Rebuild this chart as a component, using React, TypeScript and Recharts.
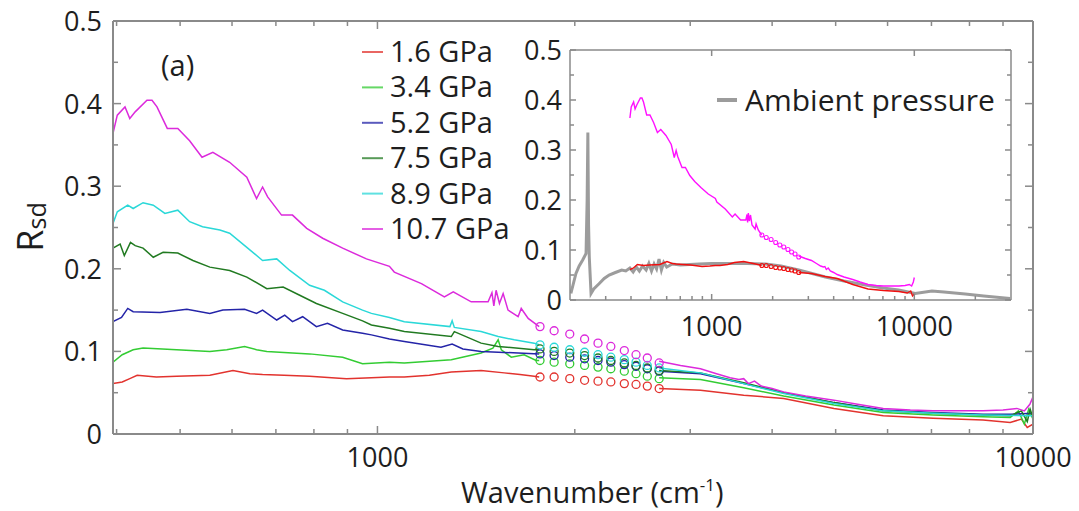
import React from 'react';
import { ComposedChart, Line, XAxis, YAxis } from 'recharts';

// ---------------- data ----------------
const legendLabels = ['1.6 GPa', '3.4 GPa', '5.2 GPa', '7.5 GPa', '8.9 GPa', '10.7 GPa'];
const insetLegendLabel = 'Ambient pressure';
const panelLabel = '(a)';

const circleW = [1770, 1860, 1965, 2070, 2170, 2270, 2380, 2480, 2580, 2690];

// 1.6 GPa
const p16LoW = [395, 408, 419, 430, 460, 494, 555, 602, 639, 668, 720, 788, 897, 979, 1043, 1099, 1200, 1296, 1439, 1561, 1650, 1734, 1765];
const p16LoV = [0.061, 0.063, 0.067, 0.071, 0.069, 0.070, 0.071, 0.077, 0.073, 0.072, 0.071, 0.070, 0.067, 0.068, 0.069, 0.069, 0.071, 0.075, 0.077, 0.074, 0.072, 0.070, 0.069];
const p16CircV = [0.069, 0.069, 0.067, 0.065, 0.064, 0.063, 0.061, 0.060, 0.058, 0.055];
const p16HiW = [2690, 3110, 3620, 4165, 4970, 5910, 7040, 8390, 9230, 9600, 9800, 10000];
const p16HiV = [0.055, 0.053, 0.047, 0.043, 0.031, 0.022, 0.019, 0.017, 0.014, 0.018, 0.008, 0.012];

// 3.4 GPa
const p34LoW = [395, 408, 424, 439, 494, 555, 589, 627, 654, 678, 788, 885, 949, 1043, 1099, 1296, 1439, 1500, 1528, 1545, 1600, 1674, 1746, 1765];
const p34LoV = [0.087, 0.096, 0.102, 0.104, 0.102, 0.100, 0.102, 0.106, 0.102, 0.100, 0.097, 0.093, 0.085, 0.087, 0.086, 0.090, 0.098, 0.104, 0.114, 0.102, 0.093, 0.096, 0.089, 0.089];
const p34CircV = [0.089, 0.087, 0.085, 0.083, 0.081, 0.079, 0.076, 0.073, 0.070, 0.067];
const p34HiW = [2690, 3110, 3620, 4165, 4970, 5910, 7040, 8390, 9230, 9500, 9700, 9850, 10000];
const p34HiV = [0.068, 0.066, 0.056, 0.046, 0.035, 0.026, 0.023, 0.021, 0.020, 0.028, 0.012, 0.030, 0.018];

// 5.2 GPa
const p52LoW = [395, 407, 416, 424, 466, 512, 555, 581, 627, 654, 668, 702, 722, 742, 769, 807, 839, 885, 949, 979, 1043, 1099, 1250, 1300, 1350, 1439, 1639, 1765];
const p52LoV = [0.136, 0.141, 0.152, 0.148, 0.147, 0.151, 0.146, 0.150, 0.151, 0.146, 0.150, 0.138, 0.144, 0.136, 0.142, 0.130, 0.134, 0.126, 0.122, 0.120, 0.115, 0.112, 0.105, 0.109, 0.103, 0.100, 0.098, 0.097];
const p52CircV = [0.097, 0.095, 0.093, 0.091, 0.089, 0.087, 0.084, 0.082, 0.079, 0.076];
const p52HiW = [2690, 3110, 3620, 4165, 4970, 5910, 7040, 8390, 9230, 10000];
const p52HiV = [0.076, 0.073, 0.061, 0.050, 0.038, 0.029, 0.026, 0.024, 0.024, 0.025];

// 7.5 GPa
const p75LoW = [395, 405, 411, 420, 427, 439, 455, 471, 496, 523, 555, 595, 632, 678, 718, 761, 807, 885, 949, 979, 1043, 1099, 1296, 1310, 1439, 1528, 1734, 1765];
const p75LoV = [0.225, 0.230, 0.216, 0.232, 0.228, 0.225, 0.214, 0.220, 0.219, 0.210, 0.202, 0.198, 0.190, 0.176, 0.178, 0.168, 0.158, 0.146, 0.137, 0.132, 0.128, 0.124, 0.118, 0.124, 0.110, 0.106, 0.102, 0.103];
const p75CircV = [0.103, 0.100, 0.098, 0.095, 0.092, 0.089, 0.086, 0.083, 0.080, 0.077];
const p75HiW = [2690, 3110, 3620, 4165, 4970, 5910, 7040, 8390, 9230, 9600, 9800, 9900, 10000];
const p75HiV = [0.077, 0.074, 0.062, 0.050, 0.038, 0.028, 0.025, 0.023, 0.022, 0.028, 0.015, 0.030, 0.020];

// 8.9 GPa
const p89LoW = [395, 401, 416, 424, 439, 455, 474, 496, 517, 541, 575, 595, 632, 668, 702, 735, 788, 830, 885, 949, 979, 1043, 1099, 1290, 1300, 1310, 1439, 1528, 1617, 1734, 1765];
const p89LoV = [0.255, 0.269, 0.277, 0.273, 0.280, 0.277, 0.267, 0.271, 0.257, 0.251, 0.247, 0.243, 0.226, 0.210, 0.212, 0.198, 0.180, 0.174, 0.160, 0.150, 0.146, 0.141, 0.136, 0.130, 0.137, 0.129, 0.124, 0.118, 0.114, 0.110, 0.108];
const p89CircV = [0.108, 0.105, 0.102, 0.099, 0.096, 0.093, 0.090, 0.087, 0.083, 0.080];
const p89HiW = [2690, 3110, 3620, 4165, 4970, 5910, 7040, 8390, 10000];
const p89HiV = [0.080, 0.074, 0.061, 0.049, 0.037, 0.028, 0.025, 0.023, 0.022];

// 10.7 GPa
const p107LoW = [395, 401, 412, 419, 427, 445, 453, 461, 478, 496, 517, 540, 561, 595, 632, 654, 668, 680, 714, 742, 780, 825, 885, 962, 1043, 1061, 1167, 1265, 1305, 1390, 1475, 1495, 1505, 1517, 1535, 1555, 1582, 1639, 1657, 1698, 1765];
const p107LoV = [0.364, 0.386, 0.396, 0.382, 0.390, 0.404, 0.404, 0.396, 0.370, 0.370, 0.355, 0.335, 0.341, 0.329, 0.311, 0.285, 0.299, 0.287, 0.265, 0.265, 0.249, 0.237, 0.225, 0.212, 0.203, 0.196, 0.182, 0.166, 0.172, 0.160, 0.160, 0.171, 0.155, 0.174, 0.158, 0.170, 0.150, 0.142, 0.152, 0.140, 0.130];
const p107CircV = [0.130, 0.125, 0.121, 0.115, 0.110, 0.106, 0.101, 0.096, 0.092, 0.086];
const p107HiW = [2690, 2900, 3110, 3290, 3450, 3560, 3620, 3680, 3760, 3850, 4000, 4165, 4500, 4970, 5400, 5910, 6500, 7040, 7700, 8390, 9000, 9450, 9700, 9890, 10000];
const p107HiV = [0.088, 0.083, 0.079, 0.073, 0.068, 0.066, 0.067, 0.061, 0.064, 0.058, 0.055, 0.051, 0.046, 0.041, 0.036, 0.031, 0.029, 0.028, 0.028, 0.028, 0.029, 0.031, 0.028, 0.036, 0.045];

// Ambient pressure (inset)
const ambW = [202, 207, 214, 222, 231, 240, 243, 245, 247, 249, 254, 262, 279, 295, 312, 335, 360, 377, 395, 410, 425, 440, 456, 475, 490, 505, 520, 535, 550, 565, 580, 600, 640, 700, 866, 1000, 1265, 1500, 1845, 2200, 2690, 3640, 4500, 5740, 7000, 8370, 10110, 12220, 14000, 17830, 22000, 29700];
const ambV = [0.013, 0.030, 0.053, 0.068, 0.080, 0.093, 0.200, 0.335, 0.150, 0.086, 0.013, 0.022, 0.033, 0.043, 0.050, 0.055, 0.060, 0.058, 0.064, 0.056, 0.066, 0.058, 0.068, 0.060, 0.073, 0.058, 0.072, 0.062, 0.082, 0.060, 0.075, 0.066, 0.072, 0.070, 0.072, 0.073, 0.073, 0.073, 0.072, 0.068, 0.060, 0.046, 0.038, 0.030, 0.024, 0.020, 0.013, 0.018, 0.016, 0.012, 0.008, 0.003];

// ticks
const mainXTicks = [400, 500, 600, 700, 800, 900, 1000, 2000, 3000, 4000, 5000, 6000, 7000, 8000, 9000, 10000];
const mainXLabels = [1000, 10000];
const insetXTicks = [300, 400, 500, 600, 700, 800, 900, 1000, 2000, 3000, 4000, 5000, 6000, 7000, 8000, 9000, 10000, 20000];
const insetXTopTicks = [1000, 10000];
const insetXLabels = [1000, 10000];
const yTicks = [0, 0.05, 0.1, 0.15, 0.2, 0.25, 0.3, 0.35, 0.4, 0.45, 0.5];

// ---------------- styles ----------------
const FONT = '"Open Sans", "DejaVu Sans", sans-serif';
const AXIS = '#8a8a8a';
const TXT = '#1e1e1e';
const COLORS = ['#e2332e', '#33cc33', '#2424a8', '#217a21', '#2ad8d8', '#dc2adc'];
const INSET_RED = '#f01010';
const INSET_MAG = '#ff10ff';
const GRAY = '#9c9c9c';

type Pt = { w: number; v: number };
const toPts = (w: number[], v: number[]): Pt[] => w.map((x, i) => ({ w: x, v: v[i] }));

const series = [
  { lo: toPts(p16LoW, p16LoV), circ: toPts(circleW, p16CircV), hi: toPts(p16HiW, p16HiV) },
  { lo: toPts(p34LoW, p34LoV), circ: toPts(circleW, p34CircV), hi: toPts(p34HiW, p34HiV) },
  { lo: toPts(p52LoW, p52LoV), circ: toPts(circleW, p52CircV), hi: toPts(p52HiW, p52HiV) },
  { lo: toPts(p75LoW, p75LoV), circ: toPts(circleW, p75CircV), hi: toPts(p75HiW, p75HiV) },
  { lo: toPts(p89LoW, p89LoV), circ: toPts(circleW, p89CircV), hi: toPts(p89HiW, p89HiV) },
  { lo: toPts(p107LoW, p107LoV), circ: toPts(circleW, p107CircV), hi: toPts(p107HiW, p107HiV) },
];
const ambient = toPts(ambW, ambV);

const isMajorY = (v: number) => Math.abs(v * 10 - Math.round(v * 10)) < 1e-6;
const fmtY = (v: number) => {
  const r = Math.round(v * 10) / 10;
  return r === 0 ? '0' : r.toFixed(1);
};

// ---------------- tick renderers ----------------
const mkBottomTick = (labels: number[], fs: number, dy: number, majorLen: number, minorLen: number) => (p: any) => {
  const v = p.payload.value;
  const major = labels.indexOf(v) >= 0;
  return (
    <g>
      <line x1={p.x} x2={p.x} y1={p.y} y2={p.y - (major ? majorLen : minorLen)} stroke={AXIS} strokeWidth={1.5} />
      {major ? (
        <text x={p.x} y={p.y + dy} textAnchor="middle" fontSize={fs} fill={TXT} fontFamily={FONT}>
          {v}
        </text>
      ) : null}
    </g>
  );
};
// top axis: tick y is the top of a 10px axis band; axis line sits at y + 10
const mkTopTick = (labels: number[], band: number, majorLen: number, minorLen: number) => (p: any) => {
  const v = p.payload.value;
  const major = labels.indexOf(v) >= 0;
  const y0 = p.y + band;
  return <line x1={p.x} x2={p.x} y1={y0} y2={y0 + (major ? majorLen : minorLen)} stroke={AXIS} strokeWidth={1.5} />;
};
const mkLeftTick = (fs: number, gap: number, dy: number, majorLen: number, minorLen: number) => (p: any) => {
  const v = p.payload.value;
  const major = isMajorY(v);
  return (
    <g>
      <line x1={p.x} x2={p.x + (major ? majorLen : minorLen)} y1={p.y} y2={p.y} stroke={AXIS} strokeWidth={1.5} />
      {major ? (
        <text x={p.x - gap} y={p.y + dy} textAnchor="end" fontSize={fs} fill={TXT} fontFamily={FONT}>
          {fmtY(v)}
        </text>
      ) : null}
    </g>
  );
};
// right axis: tick x is the right of a band; axis line sits at x - band
const mkRightTick = (band: number, majorLen: number, minorLen: number) => (p: any) => {
  const v = p.payload.value;
  const major = isMajorY(v);
  const x0 = p.x - band;
  return <line x1={x0} x2={x0 - (major ? majorLen : minorLen)} y1={p.y} y2={p.y} stroke={AXIS} strokeWidth={1.5} />;
};

const circleDot = (color: string, r: number, sw: number) => (p: any) => (
  <circle key={`c-${p.index}`} cx={p.cx} cy={p.cy} r={r} fill="none" stroke={color} strokeWidth={sw} />
);

const BAND = 10;

export default function App() {
  const mainDomain: [number, number] = [395, 10000];
  const insetDomain: [number, number] = [200, 30000];
  return (
    <div style={{ position: 'relative', width: 1071, height: 503, fontFamily: FONT, background: '#fff' }}>
      {/* main chart: page origin at (-8,-8) relative to this box */}
      <div style={{ position: 'absolute', left: -8, top: -8 }}>
        <ComposedChart width={1079} height={511} margin={{ top: 21 - BAND, right: 46 - BAND, bottom: 17, left: 53 }}>
          <XAxis
            xAxisId="b"
            dataKey="w"
            type="number"
            scale="log"
            domain={mainDomain}
            allowDataOverflow
            ticks={mainXTicks}
            interval={0}
            tickSize={0}
            tickMargin={0}
            tickLine={false}
            axisLine={{ stroke: AXIS, strokeWidth: 2 }}
            height={60}
            tick={mkBottomTick(mainXLabels, 27, 33, 8, 5)}
          />
          <XAxis
            xAxisId="t"
            orientation="top"
            dataKey="w"
            type="number"
            scale="log"
            domain={mainDomain}
            allowDataOverflow
            ticks={mainXTicks}
            interval={0}
            tickSize={0}
            tickMargin={0}
            tickLine={false}
            axisLine={{ stroke: AXIS, strokeWidth: 2 }}
            height={BAND}
            tick={mkTopTick(mainXLabels, 0, 8, 5)}
          />
          <YAxis
            yAxisId="l"
            dataKey="v"
            type="number"
            domain={[0, 0.5]}
            allowDataOverflow
            ticks={yTicks}
            interval={0}
            tickSize={0}
            tickMargin={0}
            tickLine={false}
            axisLine={{ stroke: AXIS, strokeWidth: 2 }}
            width={60}
            tick={mkLeftTick(27, 11, 10, 8, 5)}
          />
          <YAxis
            yAxisId="r"
            orientation="right"
            type="number"
            domain={[0, 0.5]}
            allowDataOverflow
            ticks={yTicks}
            interval={0}
            tickSize={0}
            tickMargin={0}
            tickLine={false}
            axisLine={{ stroke: AXIS, strokeWidth: 2 }}
            width={BAND}
            tick={mkRightTick(0, 8, 5)}
          />
          {series.map((s, i) => (
            <Line
              key={`lo${i}`}
              xAxisId="b"
              yAxisId="l"
              data={s.lo}
              dataKey="v"
              stroke={COLORS[i]}
              strokeWidth={1.5}
              dot={false}
              activeDot={false}
              isAnimationActive={false}
            />
          ))}
          {series.map((s, i) => (
            <Line
              key={`hi${i}`}
              xAxisId="b"
              yAxisId="l"
              data={s.hi}
              dataKey="v"
              stroke={COLORS[i]}
              strokeWidth={1.5}
              dot={false}
              activeDot={false}
              isAnimationActive={false}
            />
          ))}
          {series.map((s, i) => (
            <Line
              key={`ci${i}`}
              xAxisId="b"
              yAxisId="l"
              data={s.circ}
              dataKey="v"
              stroke="none"
              dot={circleDot(COLORS[i], 4, 1.3)}
              activeDot={false}
              isAnimationActive={false}
            />
          ))}
        </ComposedChart>
      </div>

      {/* inset chart: plot area page (570,50)-(1011,300) */}
      <div style={{ position: 'absolute', left: 502, top: 22 }}>
        <ComposedChart width={521} height={320} margin={{ top: 20 - BAND, right: 20 - BAND, bottom: 0, left: 0 }}>
          <XAxis
            xAxisId="b"
            dataKey="w"
            type="number"
            scale="log"
            domain={insetDomain}
            allowDataOverflow
            ticks={insetXTicks}
            interval={0}
            tickSize={0}
            tickMargin={0}
            tickLine={false}
            axisLine={{ stroke: AXIS, strokeWidth: 1.5 }}
            height={50}
            tick={mkBottomTick(insetXLabels, 27, 36, 6, 4)}
          />
          <XAxis
            xAxisId="t"
            orientation="top"
            dataKey="w"
            type="number"
            scale="log"
            domain={insetDomain}
            allowDataOverflow
            ticks={insetXTopTicks}
            interval={0}
            tickSize={0}
            tickMargin={0}
            tickLine={false}
            axisLine={{ stroke: AXIS, strokeWidth: 1.5 }}
            height={BAND}
            tick={mkTopTick(insetXTopTicks, 0, 6, 4)}
          />
          <YAxis
            yAxisId="l"
            dataKey="v"
            type="number"
            domain={[0, 0.5]}
            allowDataOverflow
            ticks={yTicks}
            interval={0}
            tickSize={0}
            tickMargin={0}
            tickLine={false}
            axisLine={{ stroke: AXIS, strokeWidth: 1.5 }}
            width={60}
            tick={mkLeftTick(27, 8, 10, 6, 4)}
          />
          <YAxis
            yAxisId="r"
            orientation="right"
            type="number"
            domain={[0, 0.5]}
            allowDataOverflow
            ticks={yTicks}
            interval={0}
            tickSize={0}
            tickMargin={0}
            tickLine={false}
            axisLine={{ stroke: AXIS, strokeWidth: 1.5 }}
            width={BAND}
            tick={mkRightTick(0, 6, 4)}
          />
          <Line xAxisId="b" yAxisId="l" data={ambient} dataKey="v" stroke={GRAY} strokeWidth={3} dot={false} activeDot={false} isAnimationActive={false} />
          {[0, 5].map((si) => {
            const c = si === 0 ? INSET_RED : INSET_MAG;
            const s = series[si];
            return [
              <Line key={`ilo${si}`} xAxisId="b" yAxisId="l" data={s.lo} dataKey="v" stroke={c} strokeWidth={1.4} dot={false} activeDot={false} isAnimationActive={false} />,
              <Line key={`ici${si}`} xAxisId="b" yAxisId="l" data={s.circ} dataKey="v" stroke="none" dot={circleDot(c, 2, 1.1)} activeDot={false} isAnimationActive={false} />,
              <Line key={`ihi${si}`} xAxisId="b" yAxisId="l" data={s.hi} dataKey="v" stroke={c} strokeWidth={1.4} dot={false} activeDot={false} isAnimationActive={false} />,
            ];
          })}
        </ComposedChart>
      </div>

      {/* annotations overlay (page coordinates) */}
      <svg
        width={1079}
        height={511}
        style={{ position: 'absolute', left: -8, top: -8, pointerEvents: 'none' }}
        fontFamily={FONT}
      >
        {legendLabels.map((lab, i) => {
          const base = 62 + i * 35.4;
          return (
            <g key={lab}>
              <line x1={362} x2={383} y1={base - 10} y2={base - 10} stroke={COLORS[i]} strokeWidth={2} opacity={0.75} />
              <text x={390} y={base} fontSize={29} fill={TXT}>
                {lab}
              </text>
            </g>
          );
        })}
        <line x1={717} x2={737} y1={100} y2={100} stroke={GRAY} strokeWidth={4} />
        <text x={745} y={111} fontSize={30} fill={TXT}>
          {insetLegendLabel}
        </text>
        <text x={161} y={76} fontSize={29} fill={TXT}>
          {panelLabel}
        </text>
        <text x={461} y={503} fontSize={29} fill={TXT}>
          Wavenumber (cm
          <tspan fontSize={17} dy={-12}>-1</tspan>
          <tspan dy={12}>)</tspan>
        </text>
        <g transform="translate(43, 227) rotate(-90)">
          <text x={0} y={0} textAnchor="middle" fill={TXT}>
            <tspan fontSize={36}>R</tspan>
            <tspan fontSize={25} dy={3}>sd</tspan>
          </text>
        </g>
      </svg>
    </div>
  );
}
